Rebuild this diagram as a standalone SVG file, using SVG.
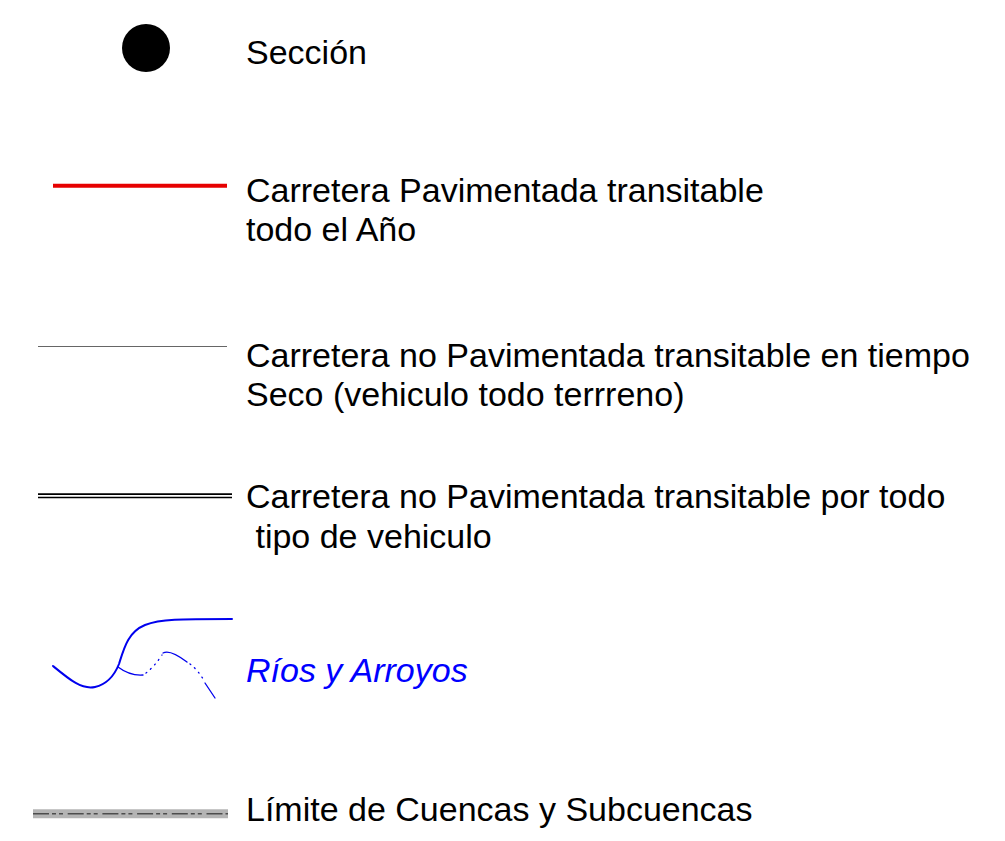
<svg xmlns="http://www.w3.org/2000/svg" width="1005" height="841" viewBox="0 0 1005 841">
<style>
text{font-family:"Liberation Sans",Arial,sans-serif;font-size:34px;fill:#000}
.blue{fill:#0000ff;font-style:italic}
.riv{fill:none;stroke:#0000ee;stroke-linecap:round}
</style>
<rect width="1005" height="841" fill="#fff"/>
<g id="seccion">
<circle cx="146" cy="48" r="24" fill="#000"/>
<text x="246" y="64">Sección</text>
</g>
<g id="pavimentada">
<line x1="53" y1="185.7" x2="227" y2="185.7" stroke="#e60000" stroke-width="4"/>
<text x="246" y="202">Carretera Pavimentada transitable</text>
<text x="246" y="241">todo el Año</text>
</g>
<g id="no-pav-seco">
<line x1="38" y1="346.5" x2="227" y2="346.5" stroke="#666" stroke-width="1"/>
<text x="246" y="367">Carretera no Pavimentada transitable en tiempo</text>
<text x="246" y="406">Seco (vehiculo todo terrreno)</text>
</g>
<g id="no-pav-todo">
<line x1="38" y1="495.8" x2="232" y2="495.8" stroke="#000" stroke-width="5"/>
<line x1="38" y1="495.8" x2="232" y2="495.8" stroke="#fff" stroke-width="1.8"/>
<text x="246" y="508">Carretera no Pavimentada transitable por todo</text>
<text x="246" y="548" xml:space="preserve"> tipo de vehiculo</text>
</g>
<g id="rios">
<path class="riv" stroke-width="2" d="M53,666 C70,680 82,690 95,687 C108,684 115,674 119,664 C124,648 128,632 145,625 C160,619 180,619 232,619"/>
<path class="riv" stroke-width="1.3" d="M118,667 Q130,676 143,675"/>
<path class="riv" stroke-width="1.3" stroke-dasharray="1 5" d="M146,673 Q154,667 162,655"/>
<path class="riv" stroke-width="1.3" d="M163,653 Q170,649 187,662"/>
<path class="riv" stroke-width="1.3" stroke-dasharray="1 5" d="M190,664 Q198,670 205,682"/>
<path class="riv" stroke-width="1.3" d="M205,683 L215,698"/>
<text class="blue" x="246" y="682">Ríos y Arroyos</text>
</g>
<g id="limite">
<line x1="33" y1="813.8" x2="228" y2="813.8" stroke="#b4b4b4" stroke-width="9"/>
<line x1="33" y1="813.8" x2="228" y2="813.8" stroke="#4d4d4d" stroke-width="1.6" stroke-dasharray="16 3 4 3 4 4.7"/>
<text x="246" y="821">Límite de Cuencas y Subcuencas</text>
</g>
</svg>
